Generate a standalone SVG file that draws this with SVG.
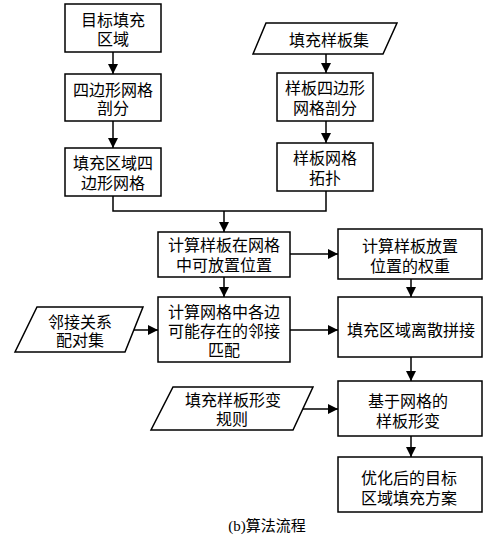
<svg xmlns="http://www.w3.org/2000/svg" width="499" height="539" viewBox="0 0 499 539">
<defs>
<marker id="ah" viewBox="0 0 10 10" refX="10" refY="5" markerWidth="10" markerHeight="10" markerUnits="userSpaceOnUse" orient="auto">
<path d="M0,0 L10,5 L0,10 Z" fill="#000"/>
</marker>
</defs>
<style>
.b{fill:#fff;stroke:#000;stroke-width:1.5}
.t{font-family:"Liberation Serif","Noto Sans CJK SC",serif;font-size:16px;text-anchor:middle;fill:#000}
.c{fill:none;stroke:#000;stroke-width:1.5}
</style>
<rect width="499" height="539" fill="#fff"/>
<g id="n1"><rect class="b" x="65" y="4" width="96" height="48"/><text class="t" x="113" y="25.5">目标填充</text><text class="t" x="113" y="45">区域</text></g>
<g id="n2"><rect class="b" x="65" y="74" width="96" height="47"/><text class="t" x="113" y="95.5">四边形网格</text><text class="t" x="113" y="114">剖分</text></g>
<g id="n3"><rect class="b" x="65" y="148" width="96" height="48"/><text class="t" x="113" y="168.5">填充区域四</text><text class="t" x="113" y="188.5">边形网格</text></g>
<g id="n4"><polygon class="b" points="266,23 397,23 383,54 253,54"/><text class="t" x="329" y="45.5">填充样板集</text></g>
<g id="n5"><rect class="b" x="277" y="73" width="96" height="48"/><text class="t" x="325" y="93.5">样板四边形</text><text class="t" x="325" y="113.5">网格剖分</text></g>
<g id="n6"><rect class="b" x="277" y="143" width="96" height="48"/><text class="t" x="325" y="163.5">样板网格</text><text class="t" x="325" y="183.5">拓扑</text></g>
<g id="n7"><rect class="b" x="158" y="232" width="132" height="45"/><text class="t" x="224" y="251">计算样板在网格</text><text class="t" x="224" y="271">中可放置位置</text></g>
<g id="n8"><rect class="b" x="338" y="229" width="144" height="50"/><text class="t" x="410" y="252">计算样板放置</text><text class="t" x="410" y="272">位置的权重</text></g>
<g id="n9"><rect class="b" x="158" y="297" width="132" height="65"/><text class="t" x="224" y="318">计算网格中各边</text><text class="t" x="224" y="337">可能存在的邻接</text><text class="t" x="224" y="356">匹配</text></g>
<g id="n10"><polygon class="b" points="37,307 143,307 125,352 15,352"/><text class="t" x="80" y="328">邻接关系</text><text class="t" x="80" y="346">配对集</text></g>
<g id="n11"><rect class="b" x="338" y="297" width="144" height="60"/><text class="t" x="411" y="336">填充区域离散拼接</text></g>
<g id="n12"><polygon class="b" points="173,387 313,387 293,430 151,430"/><text class="t" x="233" y="405.5">填充样板形变</text><text class="t" x="232" y="424.5">规则</text></g>
<g id="n13"><rect class="b" x="338" y="381" width="144" height="55"/><text class="t" x="408" y="406.5">基于网格的</text><text class="t" x="408" y="426.5">样板形变</text></g>
<g id="n14"><rect class="b" x="338" y="457" width="144" height="55"/><text class="t" x="409" y="483.5">优化后的目标</text><text class="t" x="409" y="503.5">区域填充方案</text></g>
<g id="connectors">
<line class="c" x1="113" y1="52" x2="113" y2="74" marker-end="url(#ah)"/>
<line class="c" x1="113" y1="121" x2="113" y2="148" marker-end="url(#ah)"/>
<line class="c" x1="326" y1="54" x2="326" y2="73" marker-end="url(#ah)"/>
<line class="c" x1="326" y1="121" x2="326" y2="143" marker-end="url(#ah)"/>
<polyline class="c" points="113,196 113,211 326,211 326,191"/>
<line class="c" x1="224" y1="211" x2="224" y2="232" marker-end="url(#ah)"/>
<line class="c" x1="224" y1="277" x2="224" y2="297" marker-end="url(#ah)"/>
<line class="c" x1="290" y1="254" x2="338" y2="254" marker-end="url(#ah)"/>
<line class="c" x1="411" y1="279" x2="411" y2="297" marker-end="url(#ah)"/>
<line class="c" x1="134" y1="330" x2="158" y2="330" marker-end="url(#ah)"/>
<line class="c" x1="290" y1="330" x2="338" y2="330" marker-end="url(#ah)"/>
<line class="c" x1="411" y1="357" x2="411" y2="381" marker-end="url(#ah)"/>
<line class="c" x1="303" y1="409" x2="338" y2="409" marker-end="url(#ah)"/>
<line class="c" x1="411" y1="436" x2="411" y2="457" marker-end="url(#ah)"/>
</g>
<text x="267" y="531" style="font-family:'Liberation Serif','Noto Sans CJK SC',serif;font-size:15px;text-anchor:middle">(b)算法流程</text>
</svg>
